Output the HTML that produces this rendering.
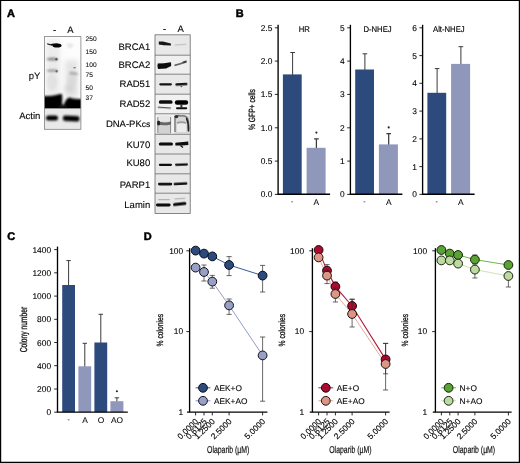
<!DOCTYPE html>
<html><head><meta charset="utf-8"><title>Figure</title>
<style>
html,body{margin:0;padding:0;background:#fff;}
body{width:520px;height:463px;overflow:hidden;font-family:"Liberation Sans",sans-serif;}
svg{display:block;font-family:"Liberation Sans",sans-serif;will-change:transform;text-rendering:geometricPrecision;}
</style></head><body>
<svg width="520" height="463" viewBox="0 0 520 463">
<defs>
<filter id="b1" x="-30%" y="-100%" width="160%" height="300%"><feGaussianBlur stdDeviation="0.7"/></filter>
<filter id="b2" x="-30%" y="-100%" width="160%" height="300%"><feGaussianBlur stdDeviation="1.3"/></filter>
<filter id="b3" x="-50%" y="-100%" width="200%" height="300%"><feGaussianBlur stdDeviation="2.5"/></filter>
<filter id="b10" x="-30%" y="-100%" width="160%" height="300%"><feGaussianBlur stdDeviation="1.0"/></filter>
<filter id="b05" x="-30%" y="-100%" width="160%" height="300%"><feGaussianBlur stdDeviation="0.45"/></filter>
<clipPath id="cpY"><rect x="44.4" y="36.6" width="36.5" height="71.9"/></clipPath>
<clipPath id="cAct"><rect x="44.4" y="108.5" width="36.5" height="20.8"/></clipPath>
<clipPath id="cR"><rect x="155" y="34.8" width="35.2" height="178.6"/></clipPath>
</defs>
<rect x="0" y="0" width="520" height="463" fill="#fff"/>

<text x="6.9" y="17" font-size="11" text-anchor="start" font-weight="bold" fill="#000" stroke="#000" stroke-width="0.5">A</text>
<text x="235.7" y="17" font-size="11" text-anchor="start" font-weight="bold" fill="#000" stroke="#000" stroke-width="0.5">B</text>
<text x="7.2" y="240" font-size="11" text-anchor="start" font-weight="bold" fill="#000" stroke="#000" stroke-width="0.5">C</text>
<text x="143.7" y="240" font-size="11" text-anchor="start" font-weight="bold" fill="#000" stroke="#000" stroke-width="0.5">D</text>
<rect x="44.4" y="36.6" width="36.5" height="71.9" fill="#fdfdfd"/>
<g clip-path="url(#cpY)">
<rect x="46" y="40" width="14" height="56" fill="#d9d9d9" opacity="0.5" filter="url(#b3)"/>
<rect x="65" y="60" width="13" height="38" fill="#d4d4d4" opacity="0.6" filter="url(#b3)"/>
<ellipse cx="72" cy="80" rx="5" ry="6" fill="#d8d8d8" opacity="0.7" filter="url(#b2)"/>
<ellipse cx="52" cy="82" rx="5" ry="8" fill="#dedede" opacity="0.7" filter="url(#b2)"/>
<ellipse cx="70" cy="45.6" rx="3" ry="2.4" fill="#e6e6e6" filter="url(#b2)"/>
<path d="M47 43.2 L52 44.6 L52 45.8 L47.4 44.6Z" fill="#1a1a1a" filter="url(#b05)"/>
<ellipse cx="57" cy="45.5" rx="4.5" ry="2.0" fill="#000" filter="url(#b1)"/>
<ellipse cx="55" cy="44.6" rx="4" ry="1.1" fill="#000" filter="url(#b05)"/>
<ellipse cx="52.4" cy="59" rx="5.6" ry="1.6" fill="#888" filter="url(#b10)"/>
<ellipse cx="56.4" cy="59.2" rx="1.2" ry="1.3" fill="#555" filter="url(#b1)"/>
<ellipse cx="52.4" cy="70.7" rx="5.6" ry="1.4" fill="#a0a0a0" filter="url(#b10)"/>
<ellipse cx="56.6" cy="71.2" rx="1.1" ry="1.2" fill="#6a6a6a" filter="url(#b1)"/>
<ellipse cx="74.6" cy="67.7" rx="1.4" ry="0.8" fill="#7a7a7a" filter="url(#b1)"/>
<ellipse cx="73.6" cy="73.4" rx="4.6" ry="1.2" fill="#9a9a9a" filter="url(#b10)" transform="rotate(8 73.6 73.4)"/>
<ellipse cx="70" cy="88" rx="5" ry="4" fill="#d2d2d2" filter="url(#b3)"/>
<path d="M40 95.6 Q50 96.6 56 95 Q60 93.6 62 94 Q63 100 61 114 H40Z" fill="#000" filter="url(#b10)"/>
<path d="M64.4 114 Q62.8 104 65.6 100.6 Q67.6 97.2 70 97.4 Q73 99 76 98.8 Q80 99.2 85 99 V114Z" fill="#000" filter="url(#b10)"/>
<rect x="59" y="104.6" width="8" height="9" fill="#111" filter="url(#b10)"/>
</g>
<rect x="44.4" y="108.5" width="36.5" height="20.8" fill="#e9e9e9"/>
<g clip-path="url(#cAct)">
<rect x="46" y="115.4" width="12" height="5" rx="2.5" fill="#050505" filter="url(#b10)"/>
<rect x="62.8" y="115.8" width="16.8" height="5.4" rx="2.7" fill="#050505" filter="url(#b10)" transform="rotate(3 71 118.4)"/>
</g>
<rect x="44.4" y="36.6" width="36.5" height="92.7" fill="none" stroke="#808080" stroke-width="0.8"/>
<path d="M44.4 108.5H80.9" stroke="#808080" stroke-width="0.7"/>
<text x="54.6" y="32.6" font-size="9.5" text-anchor="middle" font-weight="normal" fill="#000"  stroke="#000" stroke-width="0.1">-</text>
<text x="70.4" y="33" font-size="9.5" text-anchor="middle" font-weight="normal" fill="#000"  stroke="#000" stroke-width="0.1">A</text>
<text x="40.4" y="79.2" font-size="9.5" text-anchor="end" font-weight="normal" fill="#000"  stroke="#000" stroke-width="0.1">pY</text>
<text x="40.4" y="119.4" font-size="9.5" text-anchor="end" font-weight="normal" fill="#000"  stroke="#000" stroke-width="0.1">Actin</text>
<text x="85.6" y="41.4" font-size="6.6" text-anchor="start" font-weight="normal" fill="#111"  stroke="#111" stroke-width="0.1">250</text>
<text x="85.6" y="54.4" font-size="6.6" text-anchor="start" font-weight="normal" fill="#111"  stroke="#111" stroke-width="0.1">150</text>
<text x="85.6" y="67.2" font-size="6.6" text-anchor="start" font-weight="normal" fill="#111"  stroke="#111" stroke-width="0.1">100</text>
<text x="85.6" y="76.80000000000001" font-size="6.6" text-anchor="start" font-weight="normal" fill="#111"  stroke="#111" stroke-width="0.1">75</text>
<text x="85.6" y="90.2" font-size="6.6" text-anchor="start" font-weight="normal" fill="#111"  stroke="#111" stroke-width="0.1">50</text>
<text x="85.6" y="100.0" font-size="6.6" text-anchor="start" font-weight="normal" fill="#111"  stroke="#111" stroke-width="0.1">37</text>
<rect x="155.0" y="34.8" width="35.2" height="178.6" fill="#e8e8e8"/>
<g clip-path="url(#cR)">
<path d="M158.8 41.4 L163 41.6 L170.8 43.6 L171 45.6 L164 45.2 L158.8 44.6Z" fill="#141414" filter="url(#b05)"/>
<rect x="174.6" y="43.95" width="12.00" height="1.3" rx="0.65" fill="#c2c2c2" filter="url(#b1)" transform="rotate(-4 180.6 44.6)"/>
<rect x="155" y="55.2" width="35.4" height="19" fill="#efefef"/>
<path d="M157.8 63.6 L164 63.2 L171 62.2 L171.2 66 L166 68.4 L158 69 Q157 66 157.8 63.6Z" fill="#0c0c0c" filter="url(#b05)"/>
<path d="M174.4 64.6 L180 63 L186.6 60.6 L186.8 62.4 L180 64.8 L174.6 66.2Z" fill="#666" filter="url(#b1)"/>
<ellipse cx="184.6" cy="61.8" rx="2" ry="0.9" fill="#333" filter="url(#b1)" transform="rotate(-18 184.6 61.8)"/>
<rect x="159.2" y="83.15" width="12.80" height="2.3" rx="1.15" fill="#141414" filter="url(#b05)" transform="rotate(0 165.6 84.3)"/>
<rect x="175.4" y="83.00" width="12.00" height="2.4" rx="1.20" fill="#181818" filter="url(#b05)" transform="rotate(-3 181.4 84.2)"/>
<ellipse cx="181.4" cy="86.6" rx="1.1" ry="0.7" fill="#555" filter="url(#b05)"/>
<rect x="155" y="94.2" width="35.4" height="19.6" fill="#f1f1f1"/>
<rect x="158.8" y="100.15" width="13.80" height="3.7" rx="1.85" fill="#0a0a0a" filter="url(#b05)" transform="rotate(0 165.7 102)"/>
<rect x="174.8" y="100.15" width="13.40" height="4.7" rx="2.35" fill="#050505" filter="url(#b05)" transform="rotate(0 181.5 102.5)"/>
<rect x="157.6" y="107.00" width="13.40" height="1.2" rx="0.60" fill="#555" filter="url(#b05)" transform="rotate(4 164.3 107.6)"/>
<rect x="176" y="107.30" width="11.20" height="2.0" rx="1.00" fill="#111" filter="url(#b05)" transform="rotate(0 181.6 108.3)"/>
<rect x="180.4" y="104" width="2" height="4" fill="#333" filter="url(#b05)"/>
<rect x="155" y="113.8" width="35.4" height="20.5" fill="#f3f3f3"/>
<rect x="157.6" y="121" width="13.4" height="13" fill="#d2d2d2" filter="url(#b1)"/>
<rect x="157.8" y="115.6" width="13" height="6" fill="#e6e6e6" filter="url(#b1)"/>
<path d="M157.8 117 V133 M170.6 117 V133" stroke="#8a8a8a" stroke-width="1" fill="none" filter="url(#b1)"/>
<path d="M157.2 121 Q164 123.6 171 121.4 L171 124.4 Q164 126 157.2 124.6Z" fill="#666" filter="url(#b1)"/>
<ellipse cx="158.6" cy="123" rx="1.5" ry="2.6" fill="#222" filter="url(#b1)"/>
<rect x="174.4" y="115.6" width="14.4" height="18" fill="#d6d6d6" filter="url(#b1)"/>
<rect x="177" y="124" width="9" height="8" fill="#ececec" filter="url(#b1)"/>
<path d="M175 132 V117 Q177 114.6 181 116 Q186 115 187.8 119 Q189.2 124 188.6 132" stroke="#777" stroke-width="1.4" fill="none" filter="url(#b1)"/>
<path d="M186.4 118 Q189 124 188.4 131" stroke="#222" stroke-width="1.5" fill="none" filter="url(#b1)"/>
<ellipse cx="176.4" cy="116.6" rx="2" ry="1.6" fill="#333" filter="url(#b1)"/>
<path d="M177 123 Q181 121 186 123" stroke="#999" stroke-width="1.4" fill="none" filter="url(#b1)"/>
<rect x="158.8" y="142.50" width="14.20" height="3.0" rx="1.50" fill="#0a0a0a" filter="url(#b05)" transform="rotate(0 165.9 144)"/>
<path d="M175.4 142.8 L183 142 L188.2 141.6 L188.4 145 L182 145.4 L175.4 145.4Z" fill="#0a0a0a" filter="url(#b05)"/>
<path d="M180.4 145.6 L183 147.6" stroke="#111" stroke-width="1.2" filter="url(#b05)"/>
<rect x="158.8" y="163.70" width="13.20" height="2.2" rx="1.10" fill="#101010" filter="url(#b05)" transform="rotate(0 165.4 164.8)"/>
<rect x="175" y="163.50" width="13.00" height="2.2" rx="1.10" fill="#101010" filter="url(#b05)" transform="rotate(-2 181.5 164.6)"/>
<rect x="158" y="182.80" width="14.20" height="2.6" rx="1.30" fill="#121212" filter="url(#b05)" transform="rotate(0 165.1 184.1)"/>
<rect x="173.6" y="182.50" width="13.80" height="2.6" rx="1.30" fill="#121212" filter="url(#b05)" transform="rotate(-3 180.5 183.8)"/>
<rect x="158" y="198.90" width="12.00" height="1.4" rx="0.70" fill="#b4b4b4" filter="url(#b1)" transform="rotate(0 164.0 199.6)"/>
<rect x="174.4" y="197.90" width="11.00" height="1.4" rx="0.70" fill="#b8b8b8" filter="url(#b1)" transform="rotate(-4 179.9 198.6)"/>
<rect x="156" y="203.55" width="14.60" height="2.9" rx="1.45" fill="#080808" filter="url(#b05)" transform="rotate(0 163.3 205)"/>
<rect x="173" y="202.40" width="13.40" height="3.2" rx="1.60" fill="#080808" filter="url(#b05)" transform="rotate(-6 179.7 204)"/>
</g>
<path d="M155.0 55.2H190.2" stroke="#6a6a6a" stroke-width="0.8"/>
<path d="M155.0 74.2H190.2" stroke="#6a6a6a" stroke-width="0.8"/>
<path d="M155.0 94.2H190.2" stroke="#6a6a6a" stroke-width="0.8"/>
<path d="M155.0 113.8H190.2" stroke="#6a6a6a" stroke-width="0.8"/>
<path d="M155.0 134.3H190.2" stroke="#6a6a6a" stroke-width="0.8"/>
<path d="M155.0 154H190.2" stroke="#6a6a6a" stroke-width="0.8"/>
<path d="M155.0 173.8H190.2" stroke="#6a6a6a" stroke-width="0.8"/>
<path d="M155.0 193.2H190.2" stroke="#6a6a6a" stroke-width="0.8"/>
<rect x="155.0" y="34.8" width="35.2" height="178.6" fill="none" stroke="#6a6a6a" stroke-width="0.8"/>
<text x="150.2" y="49.6" font-size="9.5" text-anchor="end" font-weight="normal" fill="#000"  stroke="#000" stroke-width="0.1">BRCA1</text>
<text x="150.2" y="68.4" font-size="9.5" text-anchor="end" font-weight="normal" fill="#000"  stroke="#000" stroke-width="0.1">BRCA2</text>
<text x="150.2" y="87.4" font-size="9.5" text-anchor="end" font-weight="normal" fill="#000"  stroke="#000" stroke-width="0.1">RAD51</text>
<text x="150.2" y="106.8" font-size="9.5" text-anchor="end" font-weight="normal" fill="#000"  stroke="#000" stroke-width="0.1">RAD52</text>
<text x="150.4" y="127.2" font-size="9.5" text-anchor="end" fill="#000" stroke="#000" stroke-width="0.1">DNA-PK<tspan font-size="8.6">cs</tspan></text>
<text x="150.2" y="147.8" font-size="9.5" text-anchor="end" font-weight="normal" fill="#000"  stroke="#000" stroke-width="0.1">KU70</text>
<text x="150.2" y="166" font-size="9.5" text-anchor="end" font-weight="normal" fill="#000"  stroke="#000" stroke-width="0.1">KU80</text>
<text x="150.2" y="188" font-size="9.5" text-anchor="end" font-weight="normal" fill="#000"  stroke="#000" stroke-width="0.1">PARP1</text>
<text x="150.2" y="208.2" font-size="9.5" text-anchor="end" font-weight="normal" fill="#000"  stroke="#000" stroke-width="0.1">Lamin</text>
<text x="164.6" y="31.6" font-size="9.5" text-anchor="middle" font-weight="normal" fill="#000"  stroke="#000" stroke-width="0.1">-</text>
<text x="180.6" y="32" font-size="9.5" text-anchor="middle" font-weight="normal" fill="#000"  stroke="#000" stroke-width="0.1">A</text>
<path d="M292.6 74.9V52.5M290.3 52.5H294.90000000000003" stroke="#3a3a3a" stroke-width="1.0" fill="none"/>
<rect x="282.90000000000003" y="74.4" width="18.80" height="120.00" fill="#2d4a7c"/>
<path d="M316.4 148.3V138.8M314.09999999999997 138.8H318.7" stroke="#3a3a3a" stroke-width="1.25" fill="none"/>
<rect x="306.6" y="147.8" width="19.00" height="46.60" fill="#8f97bb"/>
<circle cx="316.4" cy="132.6" r="1.05" fill="#222"/>
<path d="M278.1 24.8V194.4" stroke="#000" stroke-width="1.35" fill="none"/>
<path d="M277.45000000000005 194.3H330.1" stroke="#000" stroke-width="1.4" fill="none"/>
<path d="M274.90000000000003 194.4H278.1" stroke="#111" stroke-width="0.9"/>
<text x="272.3" y="197.4" font-size="8.4" text-anchor="end" font-weight="normal" fill="#000"  stroke="#000" stroke-width="0.1">0.0</text>
<path d="M274.90000000000003 161.1H278.1" stroke="#111" stroke-width="0.9"/>
<text x="272.3" y="164.1" font-size="8.4" text-anchor="end" font-weight="normal" fill="#000"  stroke="#000" stroke-width="0.1">0.5</text>
<path d="M274.90000000000003 127.8H278.1" stroke="#111" stroke-width="0.9"/>
<text x="272.3" y="130.8" font-size="8.4" text-anchor="end" font-weight="normal" fill="#000"  stroke="#000" stroke-width="0.1">1.0</text>
<path d="M274.90000000000003 94.4H278.1" stroke="#111" stroke-width="0.9"/>
<text x="272.3" y="97.4" font-size="8.4" text-anchor="end" font-weight="normal" fill="#000"  stroke="#000" stroke-width="0.1">1.5</text>
<path d="M274.90000000000003 61.1H278.1" stroke="#111" stroke-width="0.9"/>
<text x="272.3" y="64.1" font-size="8.4" text-anchor="end" font-weight="normal" fill="#000"  stroke="#000" stroke-width="0.1">2.0</text>
<path d="M274.90000000000003 27.8H278.1" stroke="#111" stroke-width="0.9"/>
<text x="272.3" y="30.8" font-size="8.4" text-anchor="end" font-weight="normal" fill="#000"  stroke="#000" stroke-width="0.1">2.5</text>
<text transform="translate(298.8,31.8) scale(0.92,1)" font-size="8.4" fill="#000" stroke="#000" stroke-width="0.15">HR</text>
<rect x="291.3" y="201.4" width="1.7" height="0.9" fill="#555"/>
<text x="316.40000000000003" y="204.7" font-size="8.4" text-anchor="middle" font-weight="normal" fill="#000" stroke="#000" stroke-width="0.06">A</text>
<path d="M364.9 70.0V53.8M362.59999999999997 53.8H367.2" stroke="#3a3a3a" stroke-width="1.0" fill="none"/>
<rect x="355.2" y="69.5" width="18.80" height="124.90" fill="#2d4a7c"/>
<path d="M388.7 144.9V133.6M386.4 133.6H391.0" stroke="#3a3a3a" stroke-width="1.25" fill="none"/>
<rect x="378.9" y="144.4" width="19.00" height="50.00" fill="#8f97bb"/>
<circle cx="388.7" cy="127.4" r="1.05" fill="#222"/>
<path d="M350.4 24.8V194.4" stroke="#000" stroke-width="1.35" fill="none"/>
<path d="M349.75 194.3H402.4" stroke="#000" stroke-width="1.4" fill="none"/>
<path d="M347.2 194.4H350.4" stroke="#111" stroke-width="0.9"/>
<text x="344.59999999999997" y="197.4" font-size="8.4" text-anchor="end" font-weight="normal" fill="#000"  stroke="#000" stroke-width="0.1">0</text>
<path d="M347.2 161.1H350.4" stroke="#111" stroke-width="0.9"/>
<text x="344.59999999999997" y="164.1" font-size="8.4" text-anchor="end" font-weight="normal" fill="#000"  stroke="#000" stroke-width="0.1">1</text>
<path d="M347.2 127.8H350.4" stroke="#111" stroke-width="0.9"/>
<text x="344.59999999999997" y="130.8" font-size="8.4" text-anchor="end" font-weight="normal" fill="#000"  stroke="#000" stroke-width="0.1">2</text>
<path d="M347.2 94.4H350.4" stroke="#111" stroke-width="0.9"/>
<text x="344.59999999999997" y="97.4" font-size="8.4" text-anchor="end" font-weight="normal" fill="#000"  stroke="#000" stroke-width="0.1">3</text>
<path d="M347.2 61.1H350.4" stroke="#111" stroke-width="0.9"/>
<text x="344.59999999999997" y="64.1" font-size="8.4" text-anchor="end" font-weight="normal" fill="#000"  stroke="#000" stroke-width="0.1">4</text>
<path d="M347.2 27.8H350.4" stroke="#111" stroke-width="0.9"/>
<text x="344.59999999999997" y="30.8" font-size="8.4" text-anchor="end" font-weight="normal" fill="#000"  stroke="#000" stroke-width="0.1">5</text>
<text transform="translate(363.4,31.8) scale(0.92,1)" font-size="8.4" fill="#000" stroke="#000" stroke-width="0.15">D-NHEJ</text>
<rect x="363.6" y="201.4" width="1.7" height="0.9" fill="#555"/>
<text x="388.7" y="204.7" font-size="8.4" text-anchor="middle" font-weight="normal" fill="#000" stroke="#000" stroke-width="0.06">A</text>
<path d="M437.1 93.3V68.6M434.8 68.6H439.40000000000003" stroke="#3a3a3a" stroke-width="1.0" fill="none"/>
<rect x="427.40000000000003" y="92.8" width="18.80" height="101.60" fill="#2d4a7c"/>
<path d="M460.9 64.4V46.7M458.59999999999997 46.7H463.2" stroke="#3a3a3a" stroke-width="1.0" fill="none"/>
<rect x="451.1" y="63.9" width="19.00" height="130.50" fill="#8f97bb"/>
<path d="M422.6 24.8V194.4" stroke="#000" stroke-width="1.35" fill="none"/>
<path d="M421.95000000000005 194.3H474.6" stroke="#000" stroke-width="1.4" fill="none"/>
<path d="M419.40000000000003 194.4H422.6" stroke="#111" stroke-width="0.9"/>
<text x="416.8" y="197.4" font-size="8.4" text-anchor="end" font-weight="normal" fill="#000"  stroke="#000" stroke-width="0.1">0</text>
<path d="M419.40000000000003 166.6H422.6" stroke="#111" stroke-width="0.9"/>
<text x="416.8" y="169.6" font-size="8.4" text-anchor="end" font-weight="normal" fill="#000"  stroke="#000" stroke-width="0.1">1</text>
<path d="M419.40000000000003 138.9H422.6" stroke="#111" stroke-width="0.9"/>
<text x="416.8" y="141.9" font-size="8.4" text-anchor="end" font-weight="normal" fill="#000"  stroke="#000" stroke-width="0.1">2</text>
<path d="M419.40000000000003 111.1H422.6" stroke="#111" stroke-width="0.9"/>
<text x="416.8" y="114.1" font-size="8.4" text-anchor="end" font-weight="normal" fill="#000"  stroke="#000" stroke-width="0.1">3</text>
<path d="M419.40000000000003 83.3H422.6" stroke="#111" stroke-width="0.9"/>
<text x="416.8" y="86.3" font-size="8.4" text-anchor="end" font-weight="normal" fill="#000"  stroke="#000" stroke-width="0.1">4</text>
<path d="M419.40000000000003 55.6H422.6" stroke="#111" stroke-width="0.9"/>
<text x="416.8" y="58.6" font-size="8.4" text-anchor="end" font-weight="normal" fill="#000"  stroke="#000" stroke-width="0.1">5</text>
<path d="M419.40000000000003 27.8H422.6" stroke="#111" stroke-width="0.9"/>
<text x="416.8" y="30.8" font-size="8.4" text-anchor="end" font-weight="normal" fill="#000"  stroke="#000" stroke-width="0.1">6</text>
<text transform="translate(433,31.8) scale(0.92,1)" font-size="8.4" fill="#000" stroke="#000" stroke-width="0.15">Alt-NHEJ</text>
<rect x="435.8" y="201.4" width="1.7" height="0.9" fill="#555"/>
<text x="460.90000000000003" y="204.7" font-size="8.4" text-anchor="middle" font-weight="normal" fill="#000" stroke="#000" stroke-width="0.06">A</text>
<text transform="translate(255,109.6) rotate(-90) scale(0.745,1)" font-size="9" text-anchor="middle" fill="#111" stroke="#111" stroke-width="0.3">% GFP+ cells</text>
<path d="M68.6 285.5V260.6M66.39999999999999 260.6H70.8" stroke="#3a3a3a" stroke-width="1.0" fill="none"/>
<rect x="62.2" y="285.0" width="12.80" height="127.20" fill="#2d4a7c"/>
<path d="M84.8 366.8V343.3M82.6 343.3H87.0" stroke="#3a3a3a" stroke-width="1.0" fill="none"/>
<rect x="78.4" y="366.3" width="12.80" height="45.90" fill="#8f97bb"/>
<path d="M100.8 343.0V314.3M98.6 314.3H103.0" stroke="#3a3a3a" stroke-width="1.0" fill="none"/>
<rect x="94.4" y="342.5" width="12.80" height="69.70" fill="#2d4a7c"/>
<path d="M116.9 401.7V397.8M114.7 397.8H119.10000000000001" stroke="#3a3a3a" stroke-width="1.0" fill="none"/>
<rect x="110.4" y="401.2" width="13.00" height="11.00" fill="#8f97bb"/>
<circle cx="116.9" cy="391.2" r="1.05" fill="#222"/>
<path d="M57.5 246.6V412.2" stroke="#000" stroke-width="1.35" fill="none"/>
<path d="M56.85 412.09999999999997H127.8" stroke="#000" stroke-width="1.4" fill="none"/>
<path d="M54.2 412.2H57.5" stroke="#111" stroke-width="0.9"/>
<text x="51.1" y="415.2" font-size="8.4" text-anchor="end" font-weight="normal" fill="#000"  stroke="#000" stroke-width="0.1">0</text>
<path d="M54.2 389.0H57.5" stroke="#111" stroke-width="0.9"/>
<text x="51.1" y="392.0" font-size="8.4" text-anchor="end" font-weight="normal" fill="#000"  stroke="#000" stroke-width="0.1">200</text>
<path d="M54.2 365.7H57.5" stroke="#111" stroke-width="0.9"/>
<text x="51.1" y="368.7" font-size="8.4" text-anchor="end" font-weight="normal" fill="#000"  stroke="#000" stroke-width="0.1">400</text>
<path d="M54.2 342.5H57.5" stroke="#111" stroke-width="0.9"/>
<text x="51.1" y="345.5" font-size="8.4" text-anchor="end" font-weight="normal" fill="#000"  stroke="#000" stroke-width="0.1">600</text>
<path d="M54.2 319.3H57.5" stroke="#111" stroke-width="0.9"/>
<text x="51.1" y="322.3" font-size="8.4" text-anchor="end" font-weight="normal" fill="#000"  stroke="#000" stroke-width="0.1">800</text>
<path d="M54.2 296.1H57.5" stroke="#111" stroke-width="0.9"/>
<text x="51.1" y="299.1" font-size="8.4" text-anchor="end" font-weight="normal" fill="#000"  stroke="#000" stroke-width="0.1">1000</text>
<path d="M54.2 272.8H57.5" stroke="#111" stroke-width="0.9"/>
<text x="51.1" y="275.8" font-size="8.4" text-anchor="end" font-weight="normal" fill="#000"  stroke="#000" stroke-width="0.1">1200</text>
<path d="M54.2 249.6H57.5" stroke="#111" stroke-width="0.9"/>
<text x="51.1" y="252.6" font-size="8.4" text-anchor="end" font-weight="normal" fill="#000"  stroke="#000" stroke-width="0.1">1400</text>
<rect x="67.8" y="419.4" width="1.7" height="0.9" fill="#555"/>
<text x="85.0" y="422.6" font-size="8.4" text-anchor="middle" font-weight="normal" fill="#000" stroke="#000" stroke-width="0.06">A</text>
<text x="101.0" y="422.6" font-size="8.4" text-anchor="middle" font-weight="normal" fill="#000" stroke="#000" stroke-width="0.06">O</text>
<text x="117.10000000000001" y="422.6" font-size="8.4" text-anchor="middle" font-weight="normal" fill="#000" stroke="#000" stroke-width="0.06">AO</text>
<text transform="translate(26.8,329.6) rotate(-90) scale(0.67,1)" font-size="10" text-anchor="middle" fill="#111" stroke="#111" stroke-width="0.3">Colony number</text>
<path d="M189.6 248.2V412.2" stroke="#000" stroke-width="1.35" fill="none"/>
<path d="M187.0 412.1H267.4" stroke="#000" stroke-width="1.4" fill="none"/>
<path d="M186.4 250.8H189.6" stroke="#111" stroke-width="0.9"/>
<text x="183.2" y="253.6" font-size="8.4" text-anchor="end" font-weight="normal" fill="#000"  stroke="#000" stroke-width="0.1">100</text>
<path d="M186.4 331.6H189.6" stroke="#111" stroke-width="0.9"/>
<text x="183.2" y="334.4" font-size="8.4" text-anchor="end" font-weight="normal" fill="#000"  stroke="#000" stroke-width="0.1">10</text>
<text x="183.2" y="415.2" font-size="8.4" text-anchor="end" font-weight="normal" fill="#000"  stroke="#000" stroke-width="0.1">1</text>
<path d="M195.6 412.2V415.4" stroke="#111" stroke-width="0.9"/>
<text transform="translate(198.8,421.9) rotate(-45)" font-size="8.3" text-anchor="end" fill="#000" stroke="#000" stroke-width="0.15">0.0000</text>
<path d="M204.0 412.2V415.4" stroke="#111" stroke-width="0.9"/>
<text transform="translate(207.2,421.9) rotate(-45)" font-size="8.3" text-anchor="end" fill="#000" stroke="#000" stroke-width="0.15">0.6125</text>
<path d="M212.3 412.2V415.4" stroke="#111" stroke-width="0.9"/>
<text transform="translate(215.5,421.9) rotate(-45)" font-size="8.3" text-anchor="end" fill="#000" stroke="#000" stroke-width="0.15">1.2500</text>
<path d="M229.1 412.2V415.4" stroke="#111" stroke-width="0.9"/>
<text transform="translate(232.3,421.9) rotate(-45)" font-size="8.3" text-anchor="end" fill="#000" stroke="#000" stroke-width="0.15">2.5000</text>
<path d="M262.6 412.2V415.4" stroke="#111" stroke-width="0.9"/>
<text transform="translate(265.8,421.9) rotate(-45)" font-size="8.3" text-anchor="end" fill="#000" stroke="#000" stroke-width="0.15">5.0000</text>
<polyline points="195.6,250.6 204.0,253.6 212.3,256.4 229.1,265.0 262.6,275.6" fill="none" stroke="#3b5a94" stroke-width="1.0"/>
<polyline points="195.6,267.6 204.0,272.0 212.3,281.6 229.1,305.4 262.6,355.4" fill="none" stroke="#8490c4" stroke-width="0.9"/>
<path d="M229.1 275.6V256.6M226.5 256.6H231.7M226.5 275.6H231.7" stroke="#2a2a2a" stroke-width="0.7" fill="none"/>
<path d="M262.6 292V265.4M260.0 265.4H265.20000000000005M260.0 292H265.20000000000005" stroke="#2a2a2a" stroke-width="0.7" fill="none"/>
<circle cx="195.6" cy="250.6" r="4.4" fill="#2d4a7c" stroke="#080d1c" stroke-width="1.0"/>
<circle cx="204.0" cy="253.6" r="4.4" fill="#2d4a7c" stroke="#080d1c" stroke-width="1.0"/>
<circle cx="212.3" cy="256.4" r="4.4" fill="#2d4a7c" stroke="#080d1c" stroke-width="1.0"/>
<circle cx="229.1" cy="265.0" r="4.4" fill="#2d4a7c" stroke="#080d1c" stroke-width="1.0"/>
<circle cx="262.6" cy="275.6" r="4.4" fill="#2d4a7c" stroke="#080d1c" stroke-width="1.0"/>
<path d="M204.0 281V265M201.4 265H206.6M201.4 281H206.6" stroke="#2a2a2a" stroke-width="0.7" fill="none"/>
<path d="M212.3 288.2V275.4M209.70000000000002 275.4H214.9M209.70000000000002 288.2H214.9" stroke="#2a2a2a" stroke-width="0.7" fill="none"/>
<path d="M229.1 314.4V299M226.5 299H231.7M226.5 314.4H231.7" stroke="#2a2a2a" stroke-width="0.7" fill="none"/>
<path d="M262.6 401.2V337M260.0 337H265.20000000000005M260.0 401.2H265.20000000000005" stroke="#2a2a2a" stroke-width="0.7" fill="none"/>
<circle cx="195.6" cy="267.6" r="4.4" fill="#98a0c6" stroke="#10121f" stroke-width="1.0"/>
<circle cx="204.0" cy="272.0" r="4.4" fill="#98a0c6" stroke="#10121f" stroke-width="1.0"/>
<circle cx="212.3" cy="281.6" r="4.4" fill="#98a0c6" stroke="#10121f" stroke-width="1.0"/>
<circle cx="229.1" cy="305.4" r="4.4" fill="#98a0c6" stroke="#10121f" stroke-width="1.0"/>
<circle cx="262.6" cy="355.4" r="4.4" fill="#98a0c6" stroke="#10121f" stroke-width="1.0"/>
<path d="M195.6 387.8H210.4" stroke="#3b5a94" stroke-width="1"/>
<circle cx="203" cy="387.8" r="4.4" fill="#2d4a7c" stroke="#080d1c" stroke-width="1.0"/>
<text x="214" y="390.5" font-size="8.3" text-anchor="start" font-weight="normal" fill="#000"  stroke="#000" stroke-width="0.1">AEK+O</text>
<path d="M195.6 400.8H210.4" stroke="#8490c4" stroke-width="1"/>
<circle cx="203" cy="400.8" r="4.4" fill="#98a0c6" stroke="#10121f" stroke-width="1.0"/>
<text x="214" y="403.5" font-size="8.3" text-anchor="start" font-weight="normal" fill="#000"  stroke="#000" stroke-width="0.1">AEK+AO</text>
<text transform="translate(163.4,330.2) rotate(-90) scale(0.745,1)" font-size="9" text-anchor="middle" fill="#111" stroke="#111" stroke-width="0.3">% colonies</text>
<text transform="translate(228.2,453.2) scale(0.69,1)" font-size="10" text-anchor="middle" fill="#111" stroke="#111" stroke-width="0.2">Olaparib (µM)</text>
<path d="M312.4 248.2V412.2" stroke="#000" stroke-width="1.35" fill="none"/>
<path d="M309.79999999999995 412.1H389.6" stroke="#000" stroke-width="1.4" fill="none"/>
<path d="M309.2 250.8H312.4" stroke="#111" stroke-width="0.9"/>
<text x="304.09999999999997" y="253.6" font-size="8.4" text-anchor="end" font-weight="normal" fill="#000"  stroke="#000" stroke-width="0.1">100</text>
<path d="M309.2 331.6H312.4" stroke="#111" stroke-width="0.9"/>
<text x="304.09999999999997" y="334.4" font-size="8.4" text-anchor="end" font-weight="normal" fill="#000"  stroke="#000" stroke-width="0.1">10</text>
<text x="304.09999999999997" y="415.2" font-size="8.4" text-anchor="end" font-weight="normal" fill="#000"  stroke="#000" stroke-width="0.1">1</text>
<path d="M318.6 412.2V415.4" stroke="#111" stroke-width="0.9"/>
<text transform="translate(321.8,421.9) rotate(-45)" font-size="8.3" text-anchor="end" fill="#000" stroke="#000" stroke-width="0.15">0.0000</text>
<path d="M327.0 412.2V415.4" stroke="#111" stroke-width="0.9"/>
<text transform="translate(330.2,421.9) rotate(-45)" font-size="8.3" text-anchor="end" fill="#000" stroke="#000" stroke-width="0.15">0.6125</text>
<path d="M335.4 412.2V415.4" stroke="#111" stroke-width="0.9"/>
<text transform="translate(338.6,421.9) rotate(-45)" font-size="8.3" text-anchor="end" fill="#000" stroke="#000" stroke-width="0.15">1.2500</text>
<path d="M352.1 412.2V415.4" stroke="#111" stroke-width="0.9"/>
<text transform="translate(355.3,421.9) rotate(-45)" font-size="8.3" text-anchor="end" fill="#000" stroke="#000" stroke-width="0.15">2.5000</text>
<path d="M385.6 412.2V415.4" stroke="#111" stroke-width="0.9"/>
<text transform="translate(388.8,421.9) rotate(-45)" font-size="8.3" text-anchor="end" fill="#000" stroke="#000" stroke-width="0.15">5.0000</text>
<polyline points="318.6,250.0 327.0,270.6 335.4,286.6 352.1,306.0 385.6,359.4" fill="none" stroke="#b01a3a" stroke-width="1.1"/>
<polyline points="318.6,257.4 327.0,275.6 335.4,294.0 352.1,314.0 385.6,364.0" fill="none" stroke="#e0a090" stroke-width="0.9"/>
<path d="M327.0 276V264.6M324.4 264.6H329.6M324.4 276H329.6" stroke="#2a2a2a" stroke-width="0.7" fill="none"/>
<path d="M335.4 291V282M332.79999999999995 282H338.0M332.79999999999995 291H338.0" stroke="#2a2a2a" stroke-width="0.7" fill="none"/>
<path d="M352.1 312V299.6M349.5 299.6H354.70000000000005M349.5 312H354.70000000000005" stroke="#2a2a2a" stroke-width="0.7" fill="none"/>
<path d="M385.6 373.8V343.4M383.0 343.4H388.20000000000005M383.0 373.8H388.20000000000005" stroke="#2a2a2a" stroke-width="0.7" fill="none"/>
<circle cx="318.6" cy="250.0" r="4.4" fill="#ad0a30" stroke="#1c0307" stroke-width="1.0"/>
<circle cx="327.0" cy="270.6" r="4.4" fill="#ad0a30" stroke="#1c0307" stroke-width="1.0"/>
<circle cx="335.4" cy="286.6" r="4.4" fill="#ad0a30" stroke="#1c0307" stroke-width="1.0"/>
<circle cx="352.1" cy="306.0" r="4.4" fill="#ad0a30" stroke="#1c0307" stroke-width="1.0"/>
<circle cx="385.6" cy="359.4" r="4.4" fill="#ad0a30" stroke="#1c0307" stroke-width="1.0"/>
<path d="M327.0 283.6V270M324.4 270H329.6M324.4 283.6H329.6" stroke="#2a2a2a" stroke-width="0.7" fill="none"/>
<path d="M335.4 302V288M332.79999999999995 288H338.0M332.79999999999995 302H338.0" stroke="#2a2a2a" stroke-width="0.7" fill="none"/>
<path d="M352.1 327V299M349.5 299H354.70000000000005M349.5 327H354.70000000000005" stroke="#2a2a2a" stroke-width="0.7" fill="none"/>
<path d="M385.6 390V343.4M383.0 343.4H388.20000000000005M383.0 390H388.20000000000005" stroke="#2a2a2a" stroke-width="0.7" fill="none"/>
<circle cx="318.6" cy="257.4" r="4.4" fill="#dc9686" stroke="#1f0f0c" stroke-width="1.0"/>
<circle cx="327.0" cy="275.6" r="4.4" fill="#dc9686" stroke="#1f0f0c" stroke-width="1.0"/>
<circle cx="335.4" cy="294.0" r="4.4" fill="#dc9686" stroke="#1f0f0c" stroke-width="1.0"/>
<circle cx="352.1" cy="314.0" r="4.4" fill="#dc9686" stroke="#1f0f0c" stroke-width="1.0"/>
<circle cx="385.6" cy="364.0" r="4.4" fill="#dc9686" stroke="#1f0f0c" stroke-width="1.0"/>
<path d="M318.40000000000003 387.8H333.2" stroke="#b01a3a" stroke-width="1"/>
<circle cx="325.8" cy="387.8" r="4.4" fill="#ad0a30" stroke="#1c0307" stroke-width="1.0"/>
<text x="336.8" y="390.5" font-size="8.3" text-anchor="start" font-weight="normal" fill="#000"  stroke="#000" stroke-width="0.1">AE+O</text>
<path d="M318.40000000000003 400.8H333.2" stroke="#e0a090" stroke-width="1"/>
<circle cx="325.8" cy="400.8" r="4.4" fill="#dc9686" stroke="#1f0f0c" stroke-width="1.0"/>
<text x="336.8" y="403.5" font-size="8.3" text-anchor="start" font-weight="normal" fill="#000"  stroke="#000" stroke-width="0.1">AE+AO</text>
<text transform="translate(285,330.2) rotate(-90) scale(0.745,1)" font-size="9" text-anchor="middle" fill="#111" stroke="#111" stroke-width="0.3">% colonies</text>
<text transform="translate(350.4,453.2) scale(0.69,1)" font-size="10" text-anchor="middle" fill="#111" stroke="#111" stroke-width="0.2">Olaparib (µM)</text>
<path d="M435.4 248.2V412.2" stroke="#000" stroke-width="1.35" fill="none"/>
<path d="M432.79999999999995 412.1H511.6" stroke="#000" stroke-width="1.4" fill="none"/>
<path d="M432.2 250.8H435.4" stroke="#111" stroke-width="0.9"/>
<text x="427.09999999999997" y="253.6" font-size="8.4" text-anchor="end" font-weight="normal" fill="#000"  stroke="#000" stroke-width="0.1">100</text>
<path d="M432.2 331.6H435.4" stroke="#111" stroke-width="0.9"/>
<text x="427.09999999999997" y="334.4" font-size="8.4" text-anchor="end" font-weight="normal" fill="#000"  stroke="#000" stroke-width="0.1">10</text>
<text x="427.09999999999997" y="415.2" font-size="8.4" text-anchor="end" font-weight="normal" fill="#000"  stroke="#000" stroke-width="0.1">1</text>
<path d="M441.4 412.2V415.4" stroke="#111" stroke-width="0.9"/>
<text transform="translate(444.6,421.9) rotate(-45)" font-size="8.3" text-anchor="end" fill="#000" stroke="#000" stroke-width="0.15">0.0000</text>
<path d="M449.8 412.2V415.4" stroke="#111" stroke-width="0.9"/>
<text transform="translate(453.0,421.9) rotate(-45)" font-size="8.3" text-anchor="end" fill="#000" stroke="#000" stroke-width="0.15">0.6125</text>
<path d="M458.1 412.2V415.4" stroke="#111" stroke-width="0.9"/>
<text transform="translate(461.3,421.9) rotate(-45)" font-size="8.3" text-anchor="end" fill="#000" stroke="#000" stroke-width="0.15">1.2500</text>
<path d="M474.9 412.2V415.4" stroke="#111" stroke-width="0.9"/>
<text transform="translate(478.1,421.9) rotate(-45)" font-size="8.3" text-anchor="end" fill="#000" stroke="#000" stroke-width="0.15">2.5000</text>
<path d="M508.4 412.2V415.4" stroke="#111" stroke-width="0.9"/>
<text transform="translate(511.6,421.9) rotate(-45)" font-size="8.3" text-anchor="end" fill="#000" stroke="#000" stroke-width="0.15">5.0000</text>
<polyline points="441.4,250.0 449.8,253.6 458.1,255.0 474.9,259.6 508.4,265.0" fill="none" stroke="#6cb848" stroke-width="1.0"/>
<polyline points="441.4,260.4 449.8,260.4 458.1,263.6 474.9,269.6 508.4,276.0" fill="none" stroke="#c4e0ac" stroke-width="0.9"/>
<path d="M474.9 264V255M472.29999999999995 255H477.5M472.29999999999995 264H477.5" stroke="#2a2a2a" stroke-width="0.7" fill="none"/>
<circle cx="441.4" cy="250.0" r="4.4" fill="#5ba234" stroke="#102306" stroke-width="1.0"/>
<circle cx="449.8" cy="253.6" r="4.4" fill="#5ba234" stroke="#102306" stroke-width="1.0"/>
<circle cx="458.1" cy="255.0" r="4.4" fill="#5ba234" stroke="#102306" stroke-width="1.0"/>
<circle cx="474.9" cy="259.6" r="4.4" fill="#5ba234" stroke="#102306" stroke-width="1.0"/>
<circle cx="508.4" cy="265.0" r="4.4" fill="#5ba234" stroke="#102306" stroke-width="1.0"/>
<path d="M474.9 278V269.6M472.29999999999995 269.6H477.5M472.29999999999995 278H477.5" stroke="#2a2a2a" stroke-width="0.7" fill="none"/>
<path d="M508.4 287V276M505.79999999999995 276H511.0M505.79999999999995 287H511.0" stroke="#2a2a2a" stroke-width="0.7" fill="none"/>
<circle cx="441.4" cy="260.4" r="4.4" fill="#bddaa0" stroke="#1b2514" stroke-width="1.0"/>
<circle cx="449.8" cy="260.4" r="4.4" fill="#bddaa0" stroke="#1b2514" stroke-width="1.0"/>
<circle cx="458.1" cy="263.6" r="4.4" fill="#bddaa0" stroke="#1b2514" stroke-width="1.0"/>
<circle cx="474.9" cy="269.6" r="4.4" fill="#bddaa0" stroke="#1b2514" stroke-width="1.0"/>
<circle cx="508.4" cy="276.0" r="4.4" fill="#bddaa0" stroke="#1b2514" stroke-width="1.0"/>
<path d="M441.20000000000005 387.8H456.0" stroke="#6cb848" stroke-width="1"/>
<circle cx="448.6" cy="387.8" r="4.4" fill="#5ba234" stroke="#102306" stroke-width="1.0"/>
<text x="459.6" y="390.5" font-size="8.3" text-anchor="start" font-weight="normal" fill="#000"  stroke="#000" stroke-width="0.1">N+O</text>
<path d="M441.20000000000005 400.8H456.0" stroke="#c4e0ac" stroke-width="1"/>
<circle cx="448.6" cy="400.8" r="4.4" fill="#bddaa0" stroke="#1b2514" stroke-width="1.0"/>
<text x="459.6" y="403.5" font-size="8.3" text-anchor="start" font-weight="normal" fill="#000"  stroke="#000" stroke-width="0.1">N+AO</text>
<text transform="translate(408.2,330.2) rotate(-90) scale(0.745,1)" font-size="9" text-anchor="middle" fill="#111" stroke="#111" stroke-width="0.3">% colonies</text>
<text transform="translate(474,453.2) scale(0.69,1)" font-size="10" text-anchor="middle" fill="#111" stroke="#111" stroke-width="0.2">Olaparib (µM)</text>
<path d="M0.6 0V463" stroke="#000" stroke-width="1.2"/>
<path d="M519.4 0V463" stroke="#000" stroke-width="1.2"/>
<path d="M0 0.5H520" stroke="#000" stroke-width="1"/>
<path d="M0 462.35H520" stroke="#000" stroke-width="1.3"/>
</svg></body></html>
